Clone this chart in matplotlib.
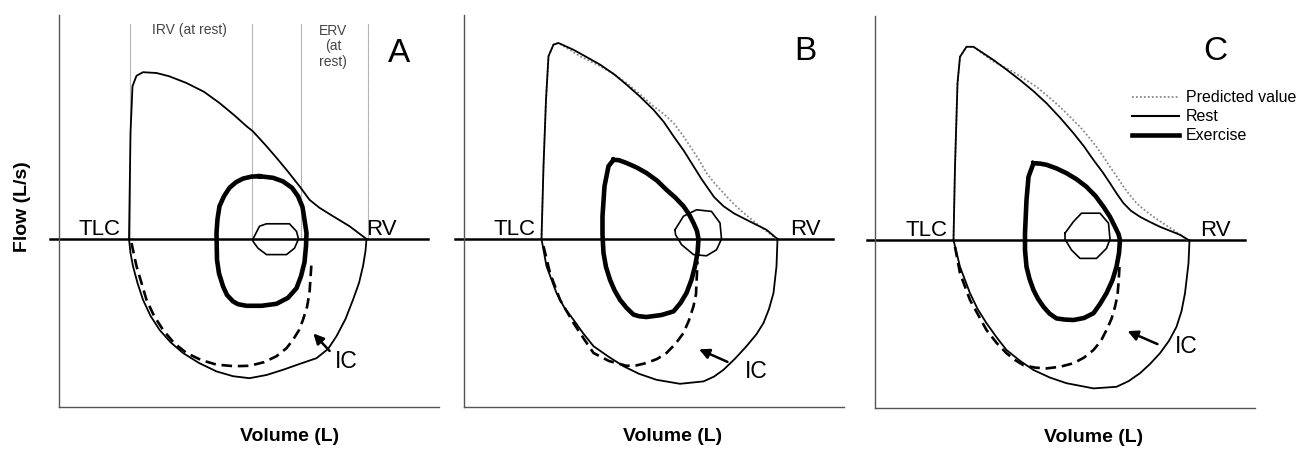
import matplotlib
matplotlib.use("Agg")
import matplotlib.pyplot as plt
from matplotlib.lines import Line2D

plt.rcParams['font.family'] = ['Liberation Sans', 'DejaVu Sans']

# ---- Panel A (volume in L, flow in L/s) ----
a_exp_vol = [1.40, 1.43, 1.47, 1.55, 1.68, 1.95, 2.20, 2.55, 2.90, 3.21, 3.50, 3.75, 3.88, 4.15, 4.35, 4.55, 4.81, 5.01, 5.21, 5.48, 5.81, 6.15]
a_exp_flow = [0.0, 2.65, 3.82, 4.08, 4.17, 4.15, 4.07, 3.90, 3.68, 3.40, 3.10, 2.82, 2.69, 2.32, 2.03, 1.73, 1.32, 0.98, 0.78, 0.57, 0.32, 0.0]
a_insp_vol = [1.40, 1.43, 1.48, 1.57, 1.68, 1.83, 2.01, 2.23, 2.48, 2.80, 3.15, 3.48, 3.81, 4.15, 4.48, 4.82, 5.15, 5.38, 5.55, 5.73, 5.88, 6.00, 6.08, 6.13, 6.15]
a_insp_flow = [0.0, -0.35, -0.68, -1.10, -1.52, -1.92, -2.27, -2.58, -2.85, -3.10, -3.31, -3.43, -3.48, -3.40, -3.27, -3.12, -2.98, -2.75, -2.43, -2.00, -1.52, -1.10, -0.68, -0.30, 0.0]
a_ic_vol = [1.45, 1.55, 1.75, 1.90, 2.08, 2.30, 2.55, 2.85, 3.15, 3.50, 3.81, 4.10, 4.35, 4.55, 4.68, 4.80, 4.88, 4.96, 5.01, 5.05]
a_ic_flow = [-0.10, -0.68, -1.52, -1.92, -2.27, -2.60, -2.85, -3.03, -3.14, -3.18, -3.17, -3.08, -2.93, -2.73, -2.52, -2.28, -2.02, -1.70, -1.35, -0.60]
a_ex_vol = [4.01, 4.28, 4.48, 4.66, 4.78, 4.87, 4.91, 4.95, 4.94, 4.91, 4.84, 4.75, 4.58, 4.35, 4.05, 3.75, 3.58, 3.48, 3.36, 3.28, 3.20, 3.16, 3.15, 3.17, 3.21, 3.30, 3.41, 3.54, 3.68, 3.85, 4.01]
a_ex_flow = [1.57, 1.53, 1.44, 1.28, 1.07, 0.80, 0.48, 0.15, -0.18, -0.58, -0.93, -1.23, -1.47, -1.62, -1.67, -1.67, -1.63, -1.56, -1.40, -1.18, -0.86, -0.52, 0.15, 0.50, 0.82, 1.07, 1.28, 1.42, 1.51, 1.56, 1.57]
a_tid_vol = [3.88, 4.01, 4.15, 4.61, 4.75, 4.79, 4.71, 4.55, 4.15, 3.98, 3.88, 3.88]
a_tid_flow = [0.0, 0.32, 0.38, 0.38, 0.19, 0.0, -0.23, -0.39, -0.39, -0.23, -0.06, 0.0]
a_guides = [1.41, 3.86, 4.83, 6.18]   # TLC, end-insp, end-exp, RV at rest

# ---- Panel B ----
b_exp_vol = [1.55, 1.59, 1.64, 1.69, 1.79, 1.89, 2.19, 2.45, 2.72, 3.00, 3.25, 3.52, 3.79, 4.00, 4.19, 4.40, 4.59, 4.75, 4.85, 5.00, 5.19, 5.40, 5.65, 6.05, 6.27]
b_exp_flow = [0.0, 1.82, 3.48, 4.57, 4.86, 4.90, 4.73, 4.55, 4.36, 4.12, 3.86, 3.56, 3.23, 2.92, 2.57, 2.20, 1.82, 1.50, 1.32, 1.05, 0.82, 0.64, 0.48, 0.23, 0.0]
b_pred_vol = [1.55, 1.59, 1.64, 1.69, 1.79, 1.89, 2.32, 2.72, 3.00, 3.25, 3.52, 3.79, 4.00, 4.19, 4.36, 4.52, 4.70, 4.85, 5.02, 5.19, 5.35, 5.52, 5.72, 5.92, 6.25]
b_pred_flow = [0.0, 1.82, 3.48, 4.57, 4.86, 4.90, 4.57, 4.32, 4.12, 3.90, 3.62, 3.32, 3.12, 2.90, 2.62, 2.32, 1.98, 1.65, 1.38, 1.15, 0.93, 0.73, 0.52, 0.32, 0.0]
b_insp_vol = [1.55, 1.65, 1.85, 2.00, 2.19, 2.39, 2.59, 2.90, 3.19, 3.50, 3.85, 4.32, 4.79, 5.00, 5.19, 5.43, 5.65, 5.85, 5.99, 6.10, 6.19, 6.25, 6.27]
b_insp_flow = [0.0, -0.68, -1.35, -1.70, -2.02, -2.37, -2.68, -2.95, -3.18, -3.37, -3.52, -3.62, -3.56, -3.44, -3.27, -2.98, -2.68, -2.38, -2.10, -1.75, -1.35, -0.68, 0.0]
b_ic_vol = [1.59, 1.72, 1.92, 2.19, 2.40, 2.59, 2.90, 3.25, 3.45, 3.65, 3.86, 4.05, 4.23, 4.39, 4.50, 4.59, 4.64, 4.65, 4.67]
b_ic_flow = [-0.18, -0.85, -1.52, -2.10, -2.50, -2.85, -3.05, -3.17, -3.16, -3.10, -3.00, -2.85, -2.62, -2.35, -2.03, -1.68, -1.38, -1.10, -0.56]
b_ex_vol = [2.99, 3.10, 3.25, 3.45, 3.65, 3.86, 4.05, 4.23, 4.39, 4.50, 4.59, 4.66, 4.69, 4.67, 4.62, 4.55, 4.45, 4.33, 4.19, 3.95, 3.65, 3.50, 3.39, 3.25, 3.12, 3.01, 2.92, 2.84, 2.79, 2.77, 2.77, 2.81, 2.89, 2.99]
b_ex_flow = [1.98, 1.97, 1.90, 1.79, 1.65, 1.46, 1.23, 1.03, 0.82, 0.62, 0.40, 0.20, 0.0, -0.35, -0.68, -1.02, -1.35, -1.60, -1.81, -1.90, -1.95, -1.93, -1.89, -1.72, -1.52, -1.28, -1.02, -0.70, -0.35, 0.10, 0.57, 1.32, 1.82, 1.98]
b_tid_vol = [4.22, 4.39, 4.65, 4.95, 5.12, 5.15, 5.05, 4.85, 4.59, 4.35, 4.23, 4.22]
b_tid_flow = [0.23, 0.57, 0.73, 0.69, 0.40, 0.0, -0.27, -0.42, -0.39, -0.14, 0.11, 0.23]

# ---- Panel C ----
c_exp_vol = [1.57, 1.60, 1.65, 1.70, 1.83, 1.97, 2.37, 2.63, 2.90, 3.17, 3.43, 3.70, 3.97, 4.18, 4.37, 4.55, 4.70, 4.84, 4.97, 5.12, 5.30, 5.50, 5.70, 6.10, 6.27]
c_exp_flow = [0.0, 1.83, 3.92, 4.58, 4.83, 4.83, 4.50, 4.26, 4.00, 3.72, 3.42, 3.06, 2.67, 2.34, 2.00, 1.70, 1.42, 1.15, 0.92, 0.73, 0.58, 0.45, 0.33, 0.13, 0.0]
c_pred_vol = [1.57, 1.60, 1.65, 1.70, 1.83, 1.97, 2.37, 2.70, 2.97, 3.23, 3.47, 3.70, 3.90, 4.10, 4.27, 4.43, 4.57, 4.70, 4.84, 4.97, 5.10, 5.23, 5.40, 5.57, 5.77, 5.97, 6.25]
c_pred_flow = [0.0, 1.83, 3.92, 4.58, 4.83, 4.83, 4.46, 4.25, 4.04, 3.83, 3.58, 3.33, 3.08, 2.83, 2.58, 2.33, 2.08, 1.83, 1.58, 1.33, 1.12, 0.92, 0.74, 0.58, 0.41, 0.25, 0.0]
c_insp_vol = [1.57, 1.70, 1.90, 2.05, 2.23, 2.43, 2.63, 2.90, 3.17, 3.50, 3.83, 4.37, 4.83, 5.07, 5.30, 5.50, 5.70, 5.88, 6.03, 6.13, 6.20, 6.27, 6.29]
c_insp_flow = [0.0, -0.67, -1.33, -1.72, -2.08, -2.43, -2.75, -3.02, -3.25, -3.44, -3.58, -3.71, -3.67, -3.53, -3.33, -3.10, -2.83, -2.52, -2.17, -1.78, -1.33, -0.58, 0.0]
c_ic_vol = [1.60, 1.70, 1.90, 2.23, 2.43, 2.63, 2.80, 2.97, 3.20, 3.43, 3.70, 3.97, 4.18, 4.37, 4.52, 4.63, 4.73, 4.80, 4.85, 4.87, 4.89]
c_ic_flow = [-0.17, -0.83, -1.50, -2.25, -2.57, -2.83, -3.00, -3.13, -3.19, -3.21, -3.17, -3.08, -2.94, -2.75, -2.52, -2.25, -1.97, -1.67, -1.38, -1.08, -0.67]
c_ex_vol = [3.17, 3.30, 3.43, 3.63, 3.83, 4.03, 4.23, 4.41, 4.57, 4.70, 4.80, 4.87, 4.90, 4.88, 4.83, 4.75, 4.63, 4.50, 4.37, 4.18, 3.97, 3.80, 3.63, 3.49, 3.37, 3.26, 3.17, 3.09, 3.03, 3.00, 3.00, 3.03, 3.07, 3.17]
c_ex_flow = [1.92, 1.91, 1.88, 1.79, 1.67, 1.52, 1.33, 1.10, 0.83, 0.58, 0.33, 0.15, 0.0, -0.33, -0.67, -1.00, -1.33, -1.60, -1.83, -1.95, -2.00, -1.99, -1.96, -1.84, -1.67, -1.47, -1.25, -0.97, -0.67, -0.25, 0.17, 1.00, 1.58, 1.92]
c_tid_vol = [3.80, 3.97, 4.13, 4.50, 4.67, 4.70, 4.63, 4.43, 4.10, 3.93, 3.80, 3.80]
c_tid_flow = [0.17, 0.46, 0.67, 0.67, 0.42, 0.02, -0.21, -0.46, -0.46, -0.25, 0.02, 0.17]

# annotation anchors (volume, flow)
ic_tail = [(5.45, -2.85), (5.32, -3.10), (5.70, -2.63)]
ic_tip = [(5.05, -2.31), (4.65, -2.73), (5.00, -2.25)]
ic_text = [(5.75, -3.06), (5.85, -3.31), (6.23, -2.67)]
tlc_text = [(0.81, 0.23), (1.02, 0.23), (1.03, 0.25)]
rv_text = [(6.45, 0.23), (6.82, 0.23), (6.80, 0.25)]
letters = ['A', 'B', 'C']
letter_pos = [(6.81, 4.65), (6.82, 4.69), (6.80, 4.71)]
zero_span = [(-0.19, 7.38), (-0.18, 7.39), (-0.17, 7.40)]

panels = [
    (a_exp_vol, a_exp_flow, None, None, a_insp_vol, a_insp_flow, a_ic_vol, a_ic_flow,
     a_ex_vol, a_ex_flow, a_tid_vol, a_tid_flow),
    (b_exp_vol, b_exp_flow, b_pred_vol, b_pred_flow, b_insp_vol, b_insp_flow, b_ic_vol, b_ic_flow,
     b_ex_vol, b_ex_flow, b_tid_vol, b_tid_flow),
    (c_exp_vol, c_exp_flow, c_pred_vol, c_pred_flow, c_insp_vol, c_insp_flow, c_ic_vol, c_ic_flow,
     c_ex_vol, c_ex_flow, c_tid_vol, c_tid_flow),
]

W, H = 1302, 451
fig = plt.figure(figsize=(W / 100, H / 100), dpi=100)
# axes boxes in pixels: left, top
boxes = [(59, 15), (464, 15), (875, 16)]
vol_lab_x = [0.608, 0.55, 0.574]

for i, (box, data) in enumerate(zip(boxes, panels)):
    left, top = box
    ax = fig.add_axes([left / W, 1 - (top + 392) / H, 380 / W, 392 / H])
    ax.set_xlim(0, 7.6)
    ax.set_ylim(-4.2, 5.6)
    for s in ['top', 'right']:
        ax.spines[s].set_visible(False)
    for s in ['left', 'bottom']:
        ax.spines[s].set_color('#555555')
        ax.spines[s].set_linewidth(1.0)
    ax.set_xticks([])
    ax.set_yticks([])

    (ev, ef, pv, pf, iv, iflow, cv, cf, xv, xf, tv, tf) = data
    ax.plot(zero_span[i], [0, 0], color='black', lw=1.8, clip_on=False)
    if pv is not None:
        ax.plot(pv, pf, color='#888888', lw=1.3, ls=(0, (1, 1.2)), zorder=2)
    ax.plot(ev, ef, color='black', lw=1.3, zorder=3)
    ax.plot(iv, iflow, color='black', lw=1.3, zorder=3)
    ax.plot(cv, cf, color='black', lw=1.9, ls=(0, (4, 2.2)), zorder=3)
    ax.plot(xv, xf, color='black', lw=3.3, solid_joinstyle='round', zorder=4)
    ax.plot(tv, tf, color='black', lw=1.2, zorder=4)

    ax.annotate('', xy=ic_tip[i], xytext=ic_tail[i],
                arrowprops=dict(arrowstyle='-|>', color='black', lw=1.8, mutation_scale=15))
    ax.text(*ic_text[i], 'IC', fontsize=16.5, ha='center', va='center')
    ax.text(*tlc_text[i], 'TLC', fontsize=16, ha='center', va='center')
    ax.text(*rv_text[i], 'RV', fontsize=16, ha='center', va='center', clip_on=False)
    ax.text(*letter_pos[i], letters[i], fontsize=24, ha='center', va='center')
    ax.text(vol_lab_x[i], -0.075, 'Volume (L)', transform=ax.transAxes, fontsize=14,
            fontweight='bold', ha='center', va='center')

    if i == 0:
        for g in a_guides:
            ax.plot([g, g], [0, 5.4], color='#7a7a7a', lw=0.8, ls=(0, (1, 0.8)), zorder=1)
        ax.text(2.61, 5.23, 'IRV (at rest)', fontsize=10, color='#444444', ha='center', va='center')
        ax.text(5.48, 4.82, 'ERV\n(at\nrest)', fontsize=10, color='#444444', ha='center',
                va='center', linespacing=1.15)
    if i == 2:
        handles = [Line2D([], [], color='#888888', lw=1.3, ls=(0, (1, 1.2))),
                   Line2D([], [], color='black', lw=1.5),
                   Line2D([], [], color='black', lw=3.3)]
        ax.legend(handles, ['Predicted value', 'Rest', 'Exercise'], loc='upper left',
                  bbox_to_anchor=(0.675, 0.81), frameon=False, fontsize=11.5,
                  handlelength=3.0, handletextpad=0.4, labelspacing=0.25,
                  borderaxespad=0, borderpad=0)

fig.text(23 / W, 1 - 207 / H, 'Flow (L/s)', rotation=90, fontsize=14, fontweight='bold',
         ha='center', va='center')

fig.savefig('out.png', dpi=100)
